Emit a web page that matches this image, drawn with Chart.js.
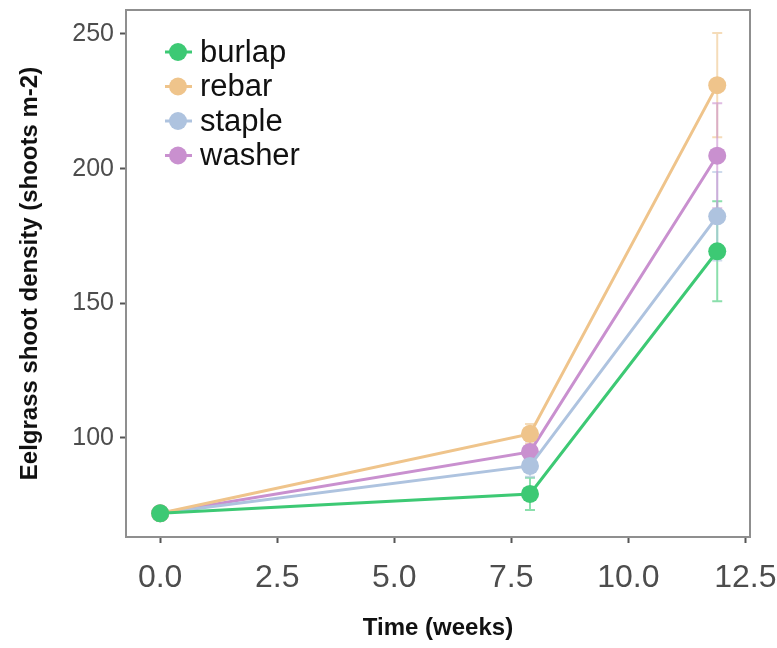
<!DOCTYPE html>
<html lang="en">
<head>
  <meta charset="utf-8" />
  <title>Eelgrass shoot density</title>
  <script src="https://cdn.jsdelivr.net/npm/chart.js"></script>
  <style>
    html, body { margin: 0; padding: 0; background: #fff; }
    #wrap { width: 777px; height: 648px; }
  </style>
</head>
<body>
  <div id="wrap"><canvas id="chart" width="777" height="648"></canvas></div>
  <script>
    // time points (weeks) and mean shoot density per treatment
    const weeks = [0, 7.9, 11.9];
    const burlap = [72, 79.2, 169.3];
    const rebar = [72, 101.5, 231];
    const staple = [72, 89.6, 182.3];
    const washer = [72, 94.8, 204.8];

    // standard error half-widths
    const burlapErr = [0, 6, 18.6];
    const rebarErr = [0, 3.7, 19.4];
    const stapleErr = [0, 4, 16.4];
    const washerErr = [0, 4, 19.5];

    const xTicks = [0, 2.5, 5, 7.5, 10, 12.5];
    const yTicks = [100, 150, 200, 250];

    const series = [
      { label: 'burlap', values: burlap, err: burlapErr, color: '#3dc974' },
      { label: 'rebar', values: rebar, err: rebarErr, color: '#efc48b' },
      { label: 'staple', values: staple, err: stapleErr, color: '#aec3df' },
      { label: 'washer', values: washer, err: washerErr, color: '#c990cf' }
    ];

    const FONT = 'Arial, "Liberation Sans", sans-serif';

    function hexA(hex, a) {
      const n = parseInt(hex.slice(1), 16);
      return `rgba(${n >> 16}, ${(n >> 8) & 255}, ${n & 255}, ${a})`;
    }

    // error bars, drawn under the lines
    const errorBars = {
      id: 'errorBars',
      beforeDatasetsDraw(chart) {
        const { ctx, scales: { x, y } } = chart;
        ctx.save();
        ctx.lineWidth = 2;
        series.forEach(s => {
          ctx.strokeStyle = hexA(s.color, 0.6);
          weeks.forEach((w, i) => {
            if (!s.err[i]) return;
            const px = x.getPixelForValue(w);
            const top = y.getPixelForValue(s.values[i] + s.err[i]);
            const bot = y.getPixelForValue(s.values[i] - s.err[i]);
            ctx.beginPath();
            ctx.moveTo(px, top); ctx.lineTo(px, bot);
            ctx.moveTo(px - 5, top); ctx.lineTo(px + 5, top);
            ctx.moveTo(px - 5, bot); ctx.lineTo(px + 5, bot);
            ctx.stroke();
          });
        });
        ctx.restore();
      }
    };

    // panel border and legend inside the plot
    const panel = {
      id: 'panel',
      afterDraw(chart) {
        const { ctx, chartArea: a } = chart;
        ctx.save();
        ctx.strokeStyle = '#8f8f8f';
        ctx.lineWidth = 2;
        ctx.strokeRect(a.left, a.top, a.right - a.left, a.bottom - a.top);

        ctx.font = '31px ' + FONT;
        ctx.textBaseline = 'middle';
        series.forEach((s, i) => {
          const cy = 52 + i * 34.5;
          ctx.strokeStyle = s.color;
          ctx.lineWidth = 3;
          ctx.beginPath();
          ctx.moveTo(165, cy); ctx.lineTo(192, cy);
          ctx.stroke();
          ctx.fillStyle = s.color;
          ctx.beginPath();
          ctx.arc(178, cy, 9, 0, Math.PI * 2);
          ctx.fill();
          ctx.fillStyle = '#111';
          ctx.fillText(s.label, 200, cy + 1);
        });
        ctx.restore();
      }
    };

    new Chart(document.getElementById('chart'), {
      type: 'line',
      data: {
        datasets: series.map(s => ({
          label: s.label,
          data: weeks.map((w, i) => ({ x: w, y: s.values[i] })),
          borderColor: s.color,
          backgroundColor: s.color,
          borderWidth: 3,
          pointRadius: 9,
          pointBorderWidth: 0,
          fill: false,
          tension: 0
        }))
      },
      options: {
        responsive: false,
        animation: false,
        layout: { padding: { top: 10, right: 27 } },
        plugins: { legend: { display: false }, tooltip: { enabled: false } },
        scales: {
          x: {
            type: 'linear',
            min: -0.73,
            max: 12.6,
            afterBuildTicks: sc => { sc.ticks = xTicks.map(v => ({ value: v })); },
            afterFit: sc => { sc.height = 111; sc.paddingLeft = 0; sc.paddingRight = 0; },
            grid: { drawOnChartArea: false, tickLength: 6, tickColor: '#555', tickWidth: 2 },
            border: { display: false },
            ticks: {
              color: '#4d4d4d',
              font: { family: FONT, size: 32 },
              padding: 16,
              callback: v => v.toFixed(1)
            },
            title: {
              display: true,
              text: 'Time (weeks)',
              color: '#111',
              font: { family: FONT, size: 24, weight: 'bold' },
              padding: { top: 10, bottom: 5 }
            }
          },
          y: {
            min: 63.2,
            max: 258.9,
            afterBuildTicks: sc => { sc.ticks = yTicks.map(v => ({ value: v })); },
            afterFit: sc => { sc.width = 126; sc.paddingTop = 0; sc.paddingBottom = 0; },
            grid: { drawOnChartArea: false, tickLength: 6, tickColor: '#555', tickWidth: 2 },
            border: { display: false },
            ticks: {
              color: '#4d4d4d',
              font: { family: FONT, size: 25 },
              padding: 6
            },
            title: {
              display: true,
              text: 'Eelgrass shoot density (shoots m-2)',
              color: '#111',
              font: { family: FONT, size: 24, weight: 'bold' },
              padding: { top: 16, bottom: 10 }
            }
          }
        }
      },
      plugins: [errorBars, panel]
    });
  </script>
</body>
</html>
